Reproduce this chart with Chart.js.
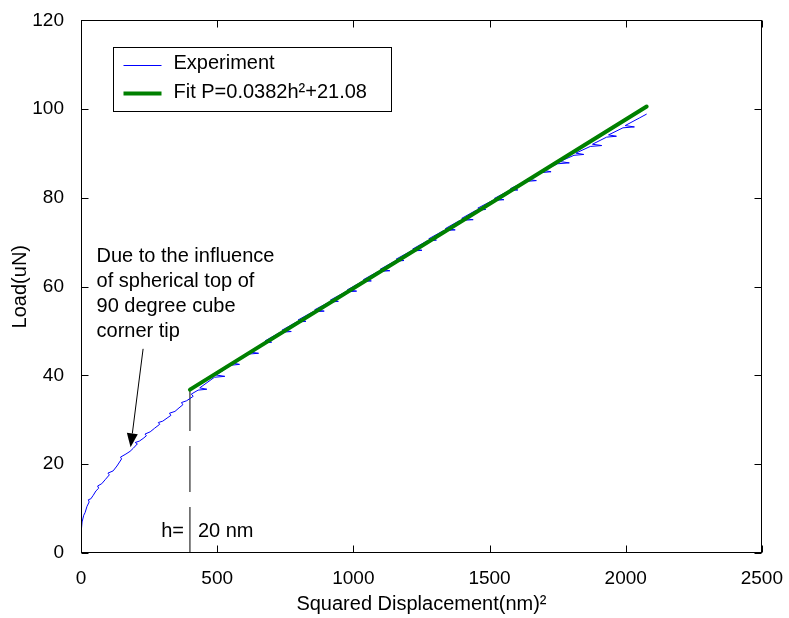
<!DOCTYPE html>
<html>
<head>
<meta charset="utf-8">
<title>Load vs squared displacement</title>
<script src="https://cdn.jsdelivr.net/npm/chart.js@4.4.1/dist/chart.umd.min.js"></script>
<style>
  html, body { margin: 0; padding: 0; background: #fff; }
  #loadchart { display: block; }
</style>
</head>
<body>
<canvas id="loadchart" width="789" height="618"></canvas>
<script>
// values: x = squared displacement (nm^2), y = load (uN)
var expX = [0, 1, 4, 10, 15, 22, 30, 27, 36, 45,
            55, 65, 61, 76, 90, 104, 99, 118, 132, 149,
            145, 165, 180, 192, 207, 199, 214, 228, 240, 235,
            254, 270, 289, 284, 300, 316, 330, 325, 345, 360,
            374, 369, 388, 400, 412, 405,
            430, 462, 436, 490, 528, 497, 550, 582, 556,
            610, 652, 617, 670, 700, 676, 730, 772, 738,
            790, 826, 797, 850, 893, 858, 910, 945, 916,
            970, 1012, 978, 1030, 1066, 1037, 1090, 1134, 1098,
            1150, 1186, 1157, 1210, 1252, 1218, 1270, 1305, 1277,
            1330, 1374, 1338, 1390, 1440, 1398, 1450, 1486, 1457,
            1510, 1553, 1518, 1570, 1604, 1577, 1630, 1672, 1638,
            1690, 1726, 1697, 1750, 1793, 1758, 1810, 1846, 1817,
            1870, 1912, 1878, 1930, 1966, 1937, 1990, 2032, 1998,
            2050, 2077];
var expY = [2.5, 5.0, 7.0, 8.5, 9.1, 10.5, 11.5, 12.0, 12.2, 13.0,
            14.0, 14.6, 15.1, 15.6, 16.6, 17.6, 18.0, 18.5, 19.6, 21.2,
            21.6, 22.3, 22.9, 23.6, 24.6, 24.9, 25.2, 25.8, 26.4, 26.8,
            27.3, 28.1, 29.0, 29.4, 29.7, 30.4, 31.0, 31.5, 31.9, 32.7,
            33.4, 33.9, 34.3, 34.8, 35.3, 35.8,
            36.7, 36.9, 37.2, 39.6, 39.8, 40.1, 42.3, 42.5, 42.8,
            44.8, 45.0, 45.3, 47.3, 47.5, 47.8, 49.7, 49.9, 50.2,
            52.0, 52.2, 52.5, 54.3, 54.5, 54.8, 56.5, 56.7, 57.0,
            58.8, 59.0, 59.3, 61.1, 61.3, 61.6, 63.4, 63.6, 63.9,
            65.7, 65.9, 66.2, 68.0, 68.2, 68.5, 70.3, 70.5, 70.8,
            72.6, 72.8, 73.1, 74.9, 75.1, 75.4, 77.2, 77.4, 77.7,
            79.4, 79.6, 79.9, 81.6, 81.8, 82.1, 83.7, 83.9, 84.2,
            85.7, 85.9, 86.2, 87.7, 87.9, 88.2, 89.6, 89.8, 90.1,
            91.6, 91.8, 92.1, 93.7, 93.9, 94.2, 95.8, 96.0, 96.3,
            98.0, 98.9];

// fitted straight line, end points
var fitX = [400, 2077];
var fitY = [36.8, 100.6];

// h = 20 nm marker (h^2 = 400)
var guideX = [400, 400];
var guideY = [0, 37.2];

var xTicks = [0, 500, 1000, 1500, 2000, 2500];
var yTicks = [0, 20, 40, 60, 80, 100, 120];

var seriesNames = ['Experiment', 'Fit P=0.0382h\u00b2+21.08'];
var noteLines = ['Due to the influence', 'of spherical top of', '90 degree cube', 'corner tip'];
var hLabels = ['h=', '20 nm'];
var xTitle = 'Squared Displacement(nm)\u00b2';
var yTitle = 'Load(uN)';

var FONT = "'Liberation Sans', Arial, Helvetica, sans-serif";

function toPoints(xs, ys) {
    return xs.map(function (x, i) { return {x: x, y: ys[i]}; });
}

function setTicks(list) {
    return function (scale) {
        scale.ticks = list.map(function (v) { return {value: v}; });
    };
}

function plainLabel(v) {
    return String(v);
}

// box, inward ticks, legend and the notes drawn on top of the plot
var decorations = {
    id: 'decorations',
    beforeDraw: function (chart) {
        var ctx = chart.ctx;
        ctx.save();
        ctx.fillStyle = '#fff';
        ctx.fillRect(0, 0, chart.width, chart.height);
        ctx.restore();
    },
    afterDatasetsDraw: function (chart) {
        var ctx = chart.ctx;
        var a = chart.chartArea;
        var xs = chart.scales.x, ys = chart.scales.y;
        var L = Math.round(a.left) + 0.5, R = Math.round(a.right) - 0.5;
        var T = Math.round(a.top) + 0.5, B = Math.round(a.bottom) - 0.5;

        ctx.save();
        ctx.strokeStyle = '#000';
        ctx.lineWidth = 1;
        ctx.strokeRect(L, T, R - L, B - T);

        // ticks point inward, on all four sides
        ctx.beginPath();
        xTicks.forEach(function (v) {
            var px = Math.round(xs.getPixelForValue(v)) + 0.5;
            ctx.moveTo(px, B); ctx.lineTo(px, B - 7);
            ctx.moveTo(px, T); ctx.lineTo(px, T + 7);
        });
        yTicks.forEach(function (v) {
            var py = Math.round(ys.getPixelForValue(v)) + 0.5;
            ctx.moveTo(L, py); ctx.lineTo(L + 7, py);
            ctx.moveTo(R, py); ctx.lineTo(R - 7, py);
        });
        ctx.stroke();

        // arrow to the knee of the curve
        var x0 = xs.getPixelForValue(228), y0 = ys.getPixelForValue(46);
        var x1 = xs.getPixelForValue(182), y1 = ys.getPixelForValue(23.8);
        var ang = Math.atan2(y1 - y0, x1 - x0);
        var hl = 14, hw = 5.5;
        var bx = x1 - hl * Math.cos(ang), by = y1 - hl * Math.sin(ang);
        ctx.beginPath();
        ctx.moveTo(x0, y0); ctx.lineTo(bx, by);
        ctx.stroke();
        ctx.beginPath();
        ctx.moveTo(x1, y1);
        ctx.lineTo(bx + hw * Math.sin(ang), by - hw * Math.cos(ang));
        ctx.lineTo(bx - hw * Math.sin(ang), by + hw * Math.cos(ang));
        ctx.closePath();
        ctx.fillStyle = '#000';
        ctx.fill();

        // notes
        ctx.font = '20px ' + FONT;
        ctx.fillStyle = '#000';
        ctx.textBaseline = 'alphabetic';
        ctx.textAlign = 'left';
        var nx = xs.getPixelForValue(57), ny = ys.getPixelForValue(65.5);
        noteLines.forEach(function (t, i) {
            ctx.fillText(t, nx, ny + i * 25);
        });
        var gx = xs.getPixelForValue(400), gy = ys.getPixelForValue(3.6);
        ctx.textAlign = 'right';
        ctx.fillText(hLabels[0], gx - 6, gy);
        ctx.textAlign = 'left';
        ctx.fillText(hLabels[1], gx + 8, gy);

        // legend box
        var lx = L + 32, ly = T + 27, lw = 278, lh = 64;
        ctx.fillStyle = '#fff';
        ctx.fillRect(lx, ly, lw, lh);
        ctx.strokeRect(lx, ly, lw, lh);
        var rows = [ly + 18, ly + 46];
        var sets = [chart.data.datasets[1], chart.data.datasets[0]];
        sets.forEach(function (ds, i) {
            ctx.beginPath();
            ctx.strokeStyle = ds.borderColor;
            ctx.lineWidth = ds.borderWidth;
            ctx.moveTo(lx + 10, rows[i]);
            ctx.lineTo(lx + 48, rows[i]);
            ctx.stroke();
            ctx.fillStyle = '#000';
            ctx.textAlign = 'left';
            ctx.fillText(ds.label, lx + 60, rows[i] + 3 + i);
        });
        ctx.restore();
    }
};

var ctx = document.getElementById('loadchart').getContext('2d');
var chart = new Chart(ctx, {
    type: 'scatter',
    data: {
        datasets: [
            {
                label: seriesNames[1],
                data: toPoints(fitX, fitY),
                showLine: true,
                borderColor: '#008000',
                borderWidth: 4,
                pointRadius: 0,
                borderCapStyle: 'round',
                order: 0
            },
            {
                label: seriesNames[0],
                data: toPoints(expX, expY),
                showLine: true,
                borderColor: '#0000ff',
                borderWidth: 1,
                pointRadius: 0,
                tension: 0,
                order: 1
            },
            {
                label: 'guide',
                data: toPoints(guideX, guideY),
                showLine: true,
                borderColor: '#000',
                borderWidth: 1,
                borderDash: [46, 15],
                pointRadius: 0,
                order: 2
            }
        ]
    },
    options: {
        responsive: false,
        animation: false,
        events: [],
        layout: { padding: { top: 16, right: 24, left: 0, bottom: 0 } },
        plugins: {
            legend: { display: false },
            tooltip: { enabled: false }
        },
        scales: {
            x: {
                type: 'linear',
                min: 0,
                max: 2500,
                afterBuildTicks: setTicks(xTicks),
                afterFit: function (s) { s.height = 65; },
                grid: { display: false },
                border: { display: false },
                ticks: { color: '#000', padding: 6, maxRotation: 0, callback: plainLabel,
                         font: { family: FONT, size: 19 } },
                title: {
                    display: true,
                    text: xTitle,
                    color: '#000',
                    padding: { top: 0, bottom: 2 },
                    font: { family: FONT, size: 20 }
                }
            },
            y: {
                type: 'linear',
                min: 0,
                max: 120,
                afterBuildTicks: setTicks(yTicks),
                afterFit: function (s) { s.width = 81; },
                grid: { display: false },
                border: { display: false },
                ticks: { color: '#000', padding: 9, callback: plainLabel,
                         font: { family: FONT, size: 19 } },
                title: {
                    display: true,
                    text: yTitle,
                    color: '#000',
                    padding: { top: 8, bottom: 0 },
                    font: { family: FONT, size: 20 }
                }
            }
        }
    },
    plugins: [decorations]
});
</script>
</body>
</html>
